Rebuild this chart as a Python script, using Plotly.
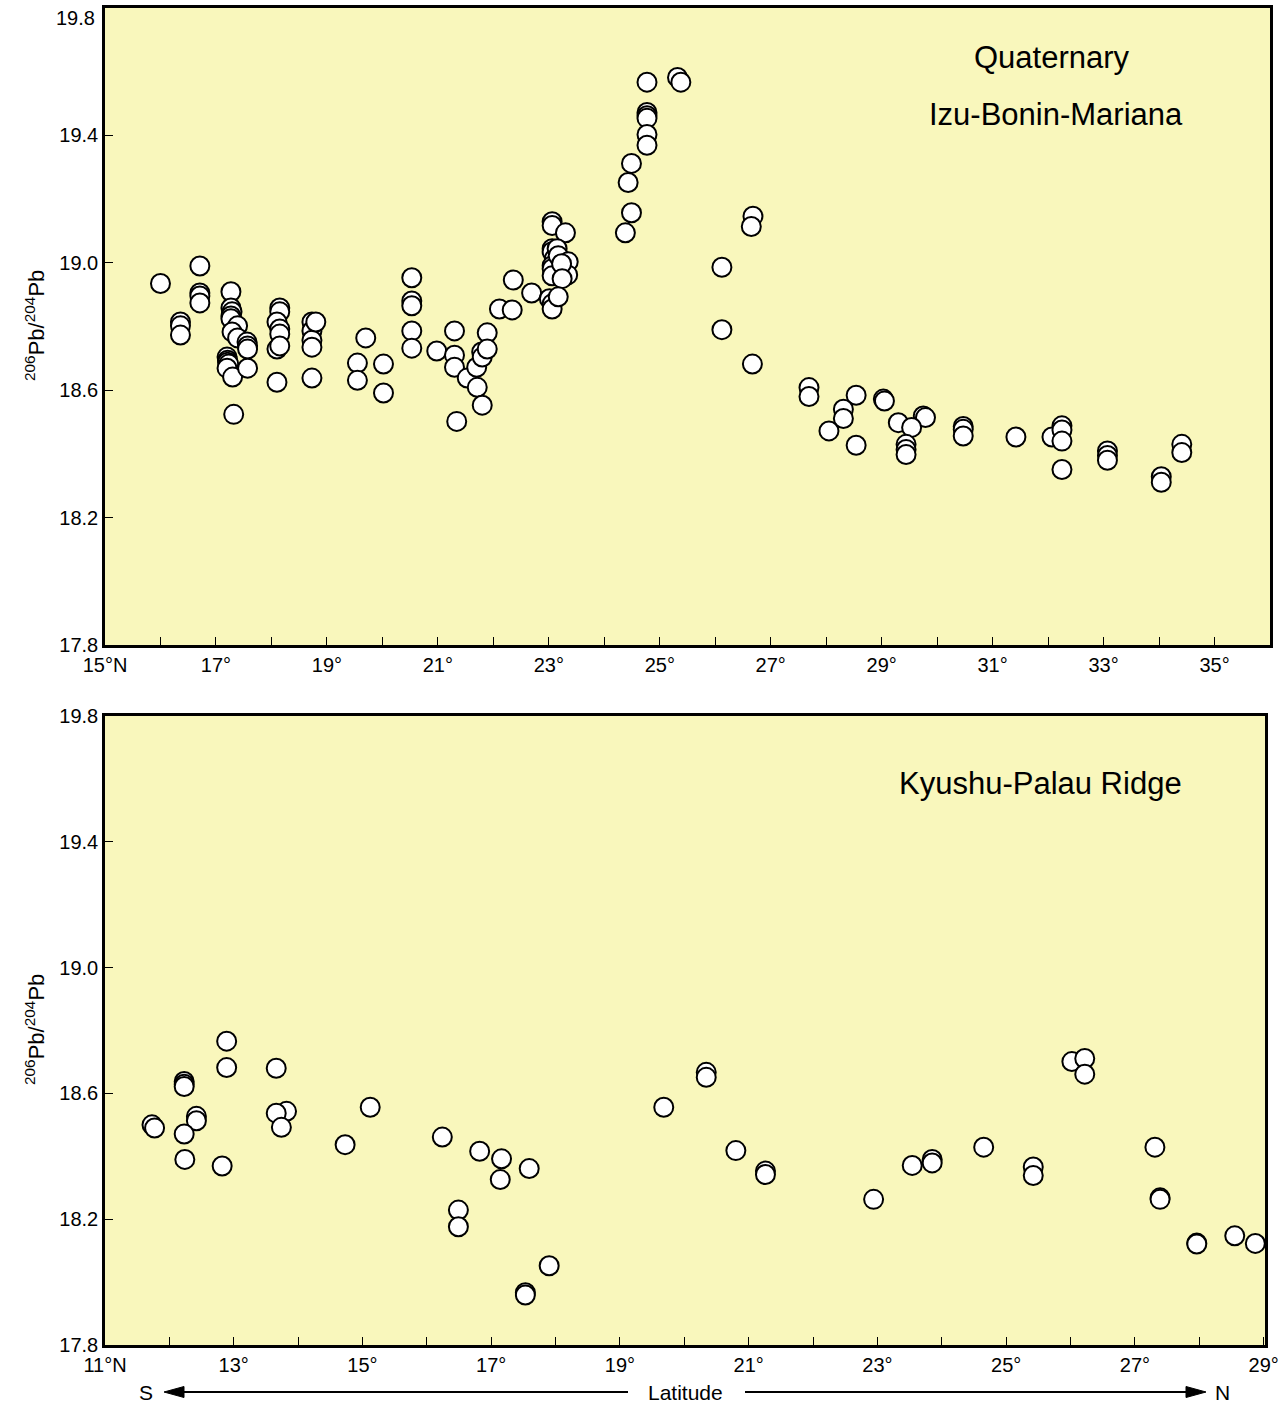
import plotly.graph_objects as go

# ---------------- data ----------------
# Quaternary Izu-Bonin-Mariana: latitude (deg N) and 206Pb/204Pb
ibm_lat = [16.00, 16.71, 16.71, 16.71, 16.71, 16.36, 16.36, 16.36,
           17.27, 17.27, 17.29, 17.27, 17.27, 17.39, 17.29, 17.39,
           17.56, 17.57, 17.57, 17.20, 17.21, 17.21, 17.23, 17.20,
           17.30, 17.57, 17.32,
           18.15, 18.15, 18.10, 18.15, 18.15, 18.10, 18.15, 18.10,
           18.73, 18.73, 18.73, 18.73, 18.80, 18.73,
           19.70, 19.55, 19.55, 20.02, 20.02,
           20.53, 20.53, 20.53, 20.53, 20.53, 20.98,
           21.30, 21.30, 21.30, 21.34, 21.53, 21.71, 21.70, 21.79, 21.80,
           21.89, 21.89, 21.80, 22.11, 22.34, 22.36, 22.69,
           23.06, 23.06, 23.30, 23.06, 23.06, 23.10, 23.06, 23.06, 23.06,
           23.15, 23.17, 23.35, 23.34, 23.23, 23.24, 23.01, 23.06, 23.06, 23.17,
           24.77, 25.32, 25.38, 24.77, 24.77, 24.77, 24.77, 24.77,
           24.49, 24.43, 24.49, 24.38, 26.68, 26.65, 26.12, 26.12, 26.67,
           27.69, 27.69, 28.54, 29.03, 29.05, 28.31, 28.31, 28.05, 28.54,
           29.30, 29.75, 29.79, 29.54, 29.44, 29.44, 29.44,
           30.47, 30.47, 30.47, 31.42, 32.07, 32.25, 32.25, 32.25, 32.25,
           33.07, 33.07, 33.07, 34.41, 34.41, 34.04, 34.04]
ibm_pb = [18.935, 18.99, 18.905, 18.896, 18.874, 18.814, 18.802, 18.773,
          18.909, 18.858, 18.846, 18.833, 18.824, 18.802, 18.783, 18.764,
          18.751, 18.739, 18.729, 18.704, 18.694, 18.688, 18.682, 18.669,
          18.641, 18.669, 18.524,
          18.858, 18.846, 18.814, 18.792, 18.776, 18.729, 18.739, 18.625,
          18.814, 18.786, 18.757, 18.735, 18.814, 18.638,
          18.764, 18.685, 18.631, 18.682, 18.591,
          18.953, 18.880, 18.865, 18.786, 18.732, 18.723,
          18.786, 18.710, 18.672, 18.502, 18.638, 18.609, 18.672, 18.720, 18.704,
          18.780, 18.729, 18.553, 18.855, 18.852, 18.946, 18.905,
          19.129, 19.117, 19.094, 19.044, 19.035, 19.013, 18.991, 18.981, 18.959,
          19.044, 19.022, 19.003, 18.962, 18.997, 18.950, 18.887, 18.871, 18.855, 18.893,
          19.567, 19.582, 19.567, 19.472, 19.462, 19.454, 19.403, 19.369,
          19.312, 19.252, 19.157, 19.094, 19.146, 19.114, 18.986, 18.790, 18.682,
          18.608, 18.580, 18.584, 18.572, 18.566, 18.540, 18.511, 18.472, 18.427,
          18.498, 18.519, 18.514, 18.483, 18.430, 18.414, 18.398,
          18.486, 18.477, 18.456, 18.453, 18.453, 18.488, 18.475, 18.440, 18.351,
          18.409, 18.395, 18.380, 18.430, 18.404, 18.328, 18.311]

# Kyushu-Palau Ridge
kpr_lat = [11.73, 11.77, 12.23, 12.23, 12.23, 12.42, 12.42, 12.23, 12.24,
           12.82, 12.89, 12.89, 13.66, 13.82, 13.66, 13.74, 15.12, 14.73,
           16.24, 16.82, 17.16, 17.14, 17.59, 16.49, 16.49, 17.90, 17.53, 17.53,
           19.68, 20.34, 20.34, 20.80, 21.26, 21.26, 22.94, 23.54, 23.85, 23.85,
           24.65, 25.42, 25.42, 26.02, 26.22, 26.22, 27.31, 27.39, 27.39,
           27.96, 27.96, 28.55, 28.87]
kpr_pb = [18.500, 18.490, 18.638, 18.629, 18.622, 18.527, 18.513, 18.471, 18.390,
          18.369, 18.766, 18.682, 18.680, 18.543, 18.537, 18.492, 18.556, 18.437,
          18.461, 18.416, 18.392, 18.326, 18.361, 18.229, 18.176, 18.052, 17.966, 17.959,
          18.556, 18.667, 18.651, 18.418, 18.353, 18.342, 18.263, 18.371, 18.390, 18.379,
          18.429, 18.366, 18.339, 18.701, 18.711, 18.661, 18.429, 18.268, 18.263,
          18.124, 18.121, 18.147, 18.123]

top_tickvals = [15, 17, 19, 21, 23, 25, 27, 29, 31, 33, 35]
top_ticktext = ["15°N", "17°", "19°", "21°", "23°", "25°", "27°", "29°", "31°", "33°", "35°"]
bot_tickvals = [11, 13, 15, 17, 19, 21, 23, 25, 27, 29]
bot_ticktext = ["11°N", "13°", "15°", "17°", "19°", "21°", "23°", "25°", "27°", "29°"]
y_tickvals = [17.8, 18.2, 18.6, 19.0, 19.4, 19.8]
y_ticktext = ["17.8", "18.2", "18.6", "19.0", "19.4", "19.8"]

# ---------------- figure ----------------
FONT = "Liberation Sans, Arial, Helvetica, sans-serif"
BG = "#F9F7BC"
W, H = 1279, 1407
ML, MR, MT, MB = 105, 9, 8, 62
PW, PH = W - ML - MR, H - MT - MB

marker = dict(symbol="circle", size=19, color="white", line=dict(color="black", width=2))

fig = go.Figure()
fig.add_trace(go.Scatter(x=ibm_lat, y=ibm_pb, mode="markers", marker=marker,
                         xaxis="x", yaxis="y", showlegend=False, hoverinfo="x+y"))
fig.add_trace(go.Scatter(x=kpr_lat, y=kpr_pb, mode="markers", marker=marker,
                         xaxis="x2", yaxis="y2", showlegend=False, hoverinfo="x+y"))

common = dict(showgrid=False, zeroline=False, showline=True, linecolor="black",
              linewidth=2.5, mirror=True, ticks="inside", ticklen=8, tickwidth=1,
              tickcolor="black", automargin=False, tickmode="array",
              ticklabeloverflow="allow",
              tickfont=dict(family=FONT, size=20, color="black"))
xminor = dict(dtick=1, ticks="inside", ticklen=8, tickwidth=1, tickcolor="black",
              showgrid=False)
yminor = dict(tick0=17.8, dtick=0.4, ticks="inside", ticklen=8, tickwidth=1,
              tickcolor="black", showgrid=False)

fig.update_layout(
    width=W, height=H,
    margin=dict(l=ML, r=MR, t=MT, b=MB, autoexpand=False),
    paper_bgcolor="white", plot_bgcolor=BG,
    font=dict(family=FONT, color="black"),
    xaxis=dict(domain=[0, 1], range=[15, 36], anchor="y",
               tickvals=top_tickvals, ticktext=top_ticktext,
               minor=dict(tick0=15, **xminor), **common),
    # top panel: the 19.8 label sits just below the frame corner (drawn as annotation)
    yaxis=dict(domain=[0.5236, 1], range=[17.8, 19.8], anchor="x",
               tickvals=y_tickvals[:-1], ticktext=y_ticktext[:-1],
               minor=yminor, **common),
    xaxis2=dict(domain=[0, 0.9957], range=[11, 29.02], anchor="y2",
                tickvals=bot_tickvals, ticktext=bot_ticktext,
                minor=dict(tick0=11, **xminor), **common),
    yaxis2=dict(domain=[0, 0.4705], range=[17.8, 19.8], anchor="x2",
                tickvals=y_tickvals, ticktext=y_ticktext, **common),
)

def px(xp):
    return (xp - ML) / PW

def py(yp):
    return (H - MB - yp) / PH

ann = []
ann.append(dict(text=y_ticktext[-1], x=px(97), y=py(18), xref="paper", yref="paper",
                showarrow=False, xanchor="right", yanchor="middle",
                font=dict(family=FONT, size=20, color="black")))
ann.append(dict(text="Quaternary", x=px(1052), y=py(58), xref="paper", yref="paper",
                showarrow=False, xanchor="center", yanchor="middle",
                font=dict(family=FONT, size=31, color="black")))
ann.append(dict(text="Izu-Bonin-Mariana", x=px(1056), y=py(114), xref="paper", yref="paper",
                showarrow=False, xanchor="center", yanchor="middle",
                font=dict(family=FONT, size=31, color="black")))
ann.append(dict(text="Kyushu-Palau Ridge", x=px(1040), y=py(783), xref="paper", yref="paper",
                showarrow=False, xanchor="center", yanchor="middle",
                font=dict(family=FONT, size=31, color="black")))
for yc in (py(326), py(1030)):
    ann.append(dict(text="<sup>206</sup>Pb/<sup>204</sup>Pb", x=px(35), y=yc,
                    xref="paper", yref="paper", showarrow=False, textangle=-90,
                    xanchor="center", yanchor="middle",
                    font=dict(family=FONT, size=22, color="black")))
row_y = 1392
for txt, xc in (("S", 146), ("N", 1222), ("Latitude", 685)):
    ann.append(dict(text=txt, x=px(xc), y=py(row_y), xref="paper", yref="paper",
                    showarrow=False, xanchor="center", yanchor="middle",
                    font=dict(family=FONT, size=21, color="black")))
fig.update_layout(annotations=ann)

# arrows of the latitude row (lines + filled triangular heads)
shapes = []
shapes.append(dict(type="line", xref="paper", yref="paper", x0=px(175), x1=px(628),
                   y0=py(row_y), y1=py(row_y), line=dict(color="black", width=2)))
shapes.append(dict(type="line", xref="paper", yref="paper", x0=px(745), x1=px(1195),
                   y0=py(row_y), y1=py(row_y), line=dict(color="black", width=2)))
hl, hw = 20, 5.5
left_path = (f"M {px(164)},{py(row_y)} L {px(164 + hl)},{py(row_y - hw)} "
             f"L {px(164 + hl)},{py(row_y + hw)} Z")
right_path = (f"M {px(1206)},{py(row_y)} L {px(1206 - hl)},{py(row_y - hw)} "
              f"L {px(1206 - hl)},{py(row_y + hw)} Z")
for p in (left_path, right_path):
    shapes.append(dict(type="path", xref="paper", yref="paper", path=p,
                       fillcolor="black", line=dict(color="black", width=1)))
fig.update_layout(shapes=shapes)

fig.write_html("out.html", config={"displayModeBar": False},
               post_script="document.body.style.margin='0';")
